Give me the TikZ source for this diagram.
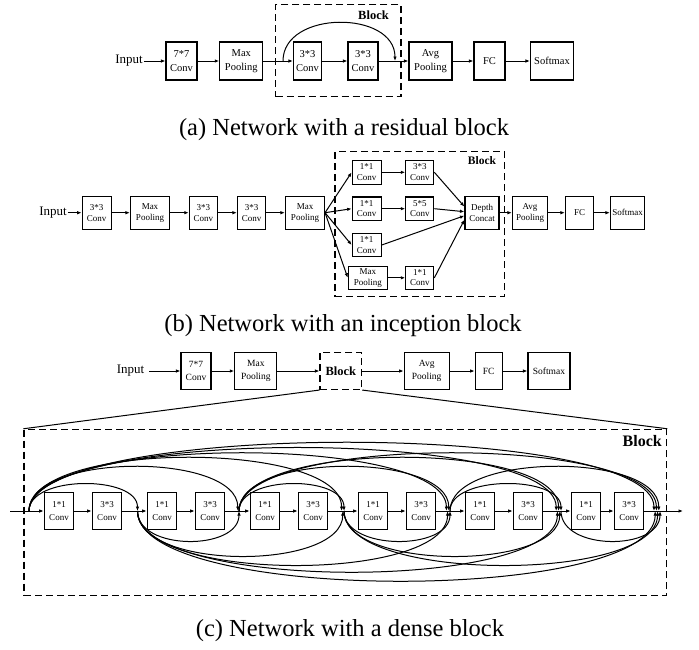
\documentclass[tikz,border=0pt]{standalone}
\usepackage{fontspec}
\setmainfont{Liberation Serif}
\usetikzlibrary{arrows.meta,calc}
\begin{document}
\begin{tikzpicture}[x=1pt,y=-1pt,
  bx/.style={draw, line width=1.1pt, align=center, inner sep=0pt},
  ba/.style={bx, minimum height=38pt, font=\fontsize{10.5}{14}\selectfont},
  bb/.style={bx, minimum height=33pt, font=\fontsize{9}{11}\selectfont},
  bi/.style={bx, minimum height=23.5pt, font=\fontsize{9}{10.5}\selectfont},
  bc/.style={bx, minimum height=37pt, font=\fontsize{9.5}{13}\selectfont},
  bd/.style={bx, minimum height=37pt, minimum width=29.5pt, font=\fontsize{9}{12.5}\selectfont},
  conn/.style={line width=1pt, -{Latex[length=4.5pt,width=3.5pt]}},
  ln/.style={line width=1pt},
  blk/.style={draw, line width=1.1pt, dash pattern=on 7pt off 4pt, inner sep=0pt},
  captxt/.style={font=\fontsize{24.5}{27}\selectfont},
  lbl/.style={font=\fontsize{13}{15}\selectfont, inner sep=1pt},
  bl/.style={font=\bfseries\fontsize{12.5}{14}\selectfont, inner sep=0pt}
]
\useasboundingbox (0,0) rectangle (699,649);

% ---------------- (a) ----------------
\node[lbl] (ain) at (129,61) {Input};
\node[ba, minimum width=31pt] (a1) at (181.5,61) {7*7\\Conv};
\node[ba, minimum width=43pt] (a2) at (241.3,61) {Max\\Pooling};
\node[ba, minimum width=28pt] (a3) at (307.5,61) {3*3\\Conv};
\node[ba, minimum width=30pt] (a4) at (363,61) {3*3\\Conv};
\node[ba, minimum width=43pt] (a5) at (430.5,61) {Avg\\Pooling};
\node[ba, minimum width=31pt] (a6) at (489.5,61) {FC};
\node[ba, minimum width=43pt] (a7) at (552,61) {Softmax};
\node[blk, minimum width=125.3pt, minimum height=92pt] (ablk) at (338.35,50.7) {};
\node[bl] (ablbl) at (373.5,15) {Block};
\coordinate (r1) at (283,61);
\coordinate (r2) at (395,61);
\draw[conn] (ain) -- (a1);
\draw[conn] (a1) -- (a2);
\draw[conn] (a2) -- (a3);
\draw[conn] (a3) -- (a4);
\draw[conn] (a4) -- (a5);
\draw[conn] (a5) -- (a6);
\draw[conn] (a6) -- (a7);
\draw[conn] (r1) .. controls (283,10) and (395,10) .. (r2);
\node[captxt] (capa) at (344,130) {(a) Network with a residual block};

% ---------------- (b) ----------------
\node[lbl] (bin) at (53,212.7) {Input};
\node[bb, minimum width=29pt] (b1) at (96.7,212.7) {3*3\\Conv};
\node[bb, minimum width=39pt] (b2) at (150,212.7) {Max\\Pooling};
\node[bb, minimum width=28pt] (b3) at (203.3,212.7) {3*3\\Conv};
\node[bb, minimum width=28pt] (b4) at (251.5,212.7) {3*3\\Conv};
\node[bb, minimum width=39pt] (b5) at (305,212.7) {Max\\Pooling};
\node[blk, minimum width=169.3pt, minimum height=145pt] (bblk) at (419.65,224.2) {};
\node[bl, font=\bfseries\fontsize{11.5}{13}\selectfont] (bblbl) at (482,161) {Block};
\node[bi, minimum width=29pt] (i11) at (366.7,172.3) {1*1\\Conv};
\node[bi, minimum width=28pt] (i12) at (419.8,172.3) {3*3\\Conv};
\node[bi, minimum width=29pt] (i21) at (366.7,208.7) {1*1\\Conv};
\node[bi, minimum width=28pt] (i22) at (419.8,208.7) {5*5\\Conv};
\node[bi, minimum width=29pt] (i31) at (366.7,245) {1*1\\Conv};
\node[bi, minimum width=39pt] (i41) at (367.8,277.8) {Max\\Pooling};
\node[bi, minimum width=28pt] (i42) at (419.8,277.8) {1*1\\Conv};
\node[bb, minimum width=34pt] (dc) at (482,212.7) {Depth\\Concat};
\node[bb, minimum width=35pt] (b6) at (530,212.7) {Avg\\Pooling};
\node[bb, minimum width=28pt] (b7) at (579.5,212.7) {FC};
\node[bb, minimum width=34pt] (b8) at (627.5,212.7) {Softmax};
\draw[conn] (bin) -- (b1);
\draw[conn] (b1) -- (b2);
\draw[conn] (b2) -- (b3);
\draw[conn] (b3) -- (b4);
\draw[conn] (b4) -- (b5);
\draw[conn] (b5.east) -- (i11.west);
\draw[conn] (b5.east) -- (i21.west);
\draw[conn] (b5.east) -- (i31.west);
\draw[conn] (b5.east) -- (i41.west);
\draw[conn] (i11) -- (i12);
\draw[conn] (i21) -- (i22);
\draw[conn] (i41) -- (i42);
\draw[conn] (i12.east) -- ($(dc.west)+(0,-6)$);
\draw[conn] (i22.east) -- ($(dc.west)+(0,-1)$);
\draw[conn] (i31.east) -- ($(dc.west)+(0,3)$);
\draw[conn] (i42.east) -- ($(dc.west)+(0,7)$);
\draw[conn] (dc) -- (b6);
\draw[conn] (b6) -- (b7);
\draw[conn] (b7) -- (b8);
\node[captxt] (capb) at (343,326) {(b) Network with an inception block};

% ---------------- (c) top row ----------------
\node[lbl, inner xsep=5pt] (cin) at (130.5,371) {Input};
\node[bc, minimum width=30pt] (c1) at (196,371) {7*7\\Conv};
\node[bc, minimum width=42pt] (c2) at (255.8,371) {Max\\Pooling};
\node[blk, minimum width=41.7pt, minimum height=37pt] (cblk) at (340.85,371) {};
\node[bl] (cblbl) at (340.85,371) {Block};
\node[bc, minimum width=45pt] (c4) at (426.7,371) {Avg\\Pooling};
\node[bc, minimum width=27pt] (c5) at (488.7,371) {FC};
\node[bc, minimum width=42pt] (c6) at (549,371) {Softmax};
\draw[conn] (cin) -- (c1);
\draw[conn] (c1) -- (c2);
\draw[conn] (c2) -- (cblk);
\draw[conn] (cblk) -- (c4);
\draw[conn] (c4) -- (c5);
\draw[conn] (c5) -- (c6);

% ---------------- (c) dense block ----------------
\node[blk, minimum width=642.7pt, minimum height=166.4pt] (dblk) at (345.35,512.5) {};
\node[bl, font=\bfseries\fontsize{16}{18}\selectfont, anchor=east] (dblbl) at (662,441) {Block};
\draw[ln] (cblk.south west) -- (dblk.north west);
\draw[ln] (cblk.south east) -- (dblk.north east);

\foreach \n/\x/\t in {1/59/1*1, 2/107/3*3, 3/162/1*1, 4/210/3*3, 5/265/1*1, 6/313/3*3,
                      7/373/1*1, 8/421/3*3, 9/480/1*1, 10/528/3*3, 11/586/1*1, 12/629/3*3}
  \node[bd] (d\n) at (\x,511) {\t\\Conv};

\coordinate (din) at (10,511);
\coordinate (dout) at (683,511);
\coordinate (J0) at (29,511);
\coordinate (J1) at (137.5,511);
\coordinate (J2) at (239,511);
\coordinate (J3) at (344,511);
\coordinate (J4) at (450,511);
\coordinate (J5) at (561,511);
\coordinate (J6) at (660,511);

\draw[conn] (din) -- (d1);
\foreach \a/\b in {1/2,2/3,3/4,4/5,5/6,6/7,7/8,8/9,9/10,10/11,11/12}
  \draw[conn] (d\a) -- (d\b);
\draw[conn] (d12) -- (dout);

\foreach \i/\k/\c/\o in {0/1/-36/0, 0/2/-59/-1.2, 0/3/-71/-2.4, 0/4/-77/-3.6, 0/5/-84/-4.8, 0/6/-91/-6,
                         1/2/40/0, 1/3/60/-1.2, 1/4/72/-2.4, 1/5/81/-3.6, 1/6/93/-4.8,
                         2/3/-36/0, 2/4/-59/-1.2, 2/5/-71/-2.4, 2/6/-77/-3.6,
                         3/4/40/0, 3/5/60/-1.2, 3/6/72/-2.4,
                         4/5/-36/0, 4/6/-59/-1.2,
                         5/6/40/0}
  \draw[conn] (J\i) .. controls ($(J\i)+(0,\c)$) and ($(J\k)+(\o,\c)$) .. ($(J\k)+(\o,0)$);

\node[captxt] (capc) at (350,631) {(c) Network with a dense block};
\end{tikzpicture}
\end{document}
